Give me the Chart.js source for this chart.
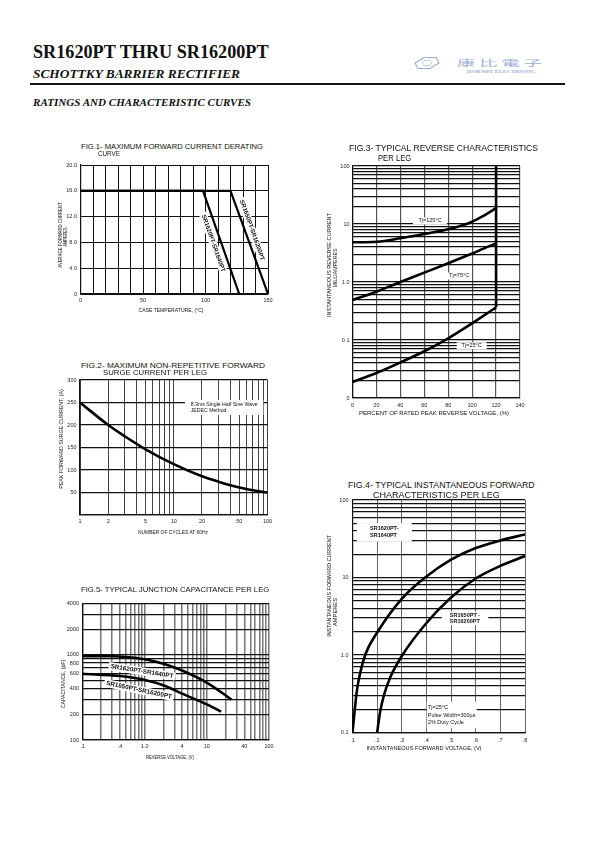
<!DOCTYPE html>
<html>
<head>
<meta charset="utf-8">
<script src="https://cdn.jsdelivr.net/npm/chart.js@4.4.1/dist/chart.umd.min.js"></script>
<style>
  html, body { margin: 0; padding: 0; background: #fff; }
  body { width: 595px; height: 842px; position: relative; overflow: hidden; font-family: 'Liberation Sans', Arial, sans-serif; color: #111; }
  canvas { position: absolute; }
  .t { position: absolute; white-space: nowrap; line-height: 1; transform-origin: 0 0; }
  #rule { position: absolute; left: 30px; top: 82.5px; width: 535px; height: 2px; background: #111; }
  #logo { position: absolute; left: 414px; top: 56px; }
</style>
</head>
<body>
<div id="rule"></div>
<svg id="logo" width="26" height="14" viewBox="0 0 26 14">
  <polygon points="1,7 10,1.5 22,1.5 25,7 16,12.5 4,12.5" fill="none" stroke="#9bb0d6" stroke-width="1.2"/>
  <ellipse cx="13" cy="7" rx="4.5" ry="2.6" fill="none" stroke="#9bb0d6" stroke-width="0.7"/>
</svg>
<canvas id="fig1"></canvas>
<canvas id="fig2"></canvas>
<canvas id="fig3"></canvas>
<canvas id="fig4"></canvas>
<canvas id="fig5"></canvas>
<script>
// ---- FIG.1 forward current derating ----
const caseTempA = [0, 98, 127];           // SR1620PT-SR1640PT
const avgCurrentA = [16, 16, 0];
const caseTempB = [0, 120, 150];          // SR1650PT-SR16200PT
const avgCurrentB = [16, 16, 0];
const fig1XGrid = [0, 10, 20, 30, 40, 50, 60, 70, 80, 90, 100, 110, 120, 130, 140, 150];
const fig1XLabelAt = [0, 50, 100, 150];
const fig1XText = ['0', '50', '100', '150'];
const fig1YGrid = [0, 4, 8, 12, 16, 20];
const fig1YText = ['0', '4.0', '8.0', '12.0', '16.0', '20.0'];

// ---- FIG.2 surge current ----
const surgeCycles = [1, 2, 3, 5, 10, 20, 30, 50, 70, 100];
const surgeAmps = [250, 200, 175, 146, 113, 86, 74, 61, 55, 50];
const fig2XGrid = [1, 2, 3, 4, 5, 6, 7, 8, 9, 10, 20, 30, 40, 50, 60, 70, 80, 90, 100];
const fig2XLabelAt = [1, 2, 5, 10, 20, 50, 100];
const fig2XText = ['1', '2', '5', '10', '20', '50', '100'];
const fig2YGrid = [0, 50, 100, 150, 200, 250, 300];
const fig2YLabelAt = [50, 100, 150, 200, 250, 300];
const fig2YText = ['50', '100', '150', '200', '250', '300'];

// ---- FIG.3 reverse characteristics ----
const revPercent = [0, 20, 40, 60, 80, 100, 110, 120];
const revTj125 = [4.84, 4.95, 5.67, 6.72, 8.1, 10.96, 14, 18.7];
const revTj75 = [0.49, 0.68, 1.0, 1.45, 2.1, 3.1, 3.8, 4.6];
const revTj25 = [0.0189, 0.027, 0.041, 0.064, 0.107, 0.194, 0.265, 0.366];
const revLimitPercent = [120, 120];
const revLimitCurrent = [100, 0.366];
const fig3XGrid = [0, 20, 40, 60, 80, 100, 120, 140];
const fig3XText = ['0', '20', '40', '60', '80', '100', '120', '140'];
const fig3YGrid = [0.01, 0.02, 0.03, 0.04, 0.05, 0.06, 0.07, 0.08, 0.09,
  0.1, 0.2, 0.3, 0.4, 0.5, 0.6, 0.7, 0.8, 0.9,
  1, 2, 3, 4, 5, 6, 7, 8, 9,
  10, 20, 30, 40, 50, 60, 70, 80, 90, 100];
const fig3YLabelAt = [0.01, 0.1, 1, 10, 100];
const fig3YText = ['0', '0.1', '1.0', '10', '100'];

// ---- FIG.4 forward characteristics ----
const fwdVoltA = [0.1, 0.118, 0.132, 0.153, 0.2, 0.3, 0.4, 0.5, 0.6, 0.7, 0.8];   // SR1620PT-SR1640PT
const fwdAmpsA = [0.1, 0.35, 0.6, 1.03, 1.95, 5.3, 10.3, 17, 24, 30, 36];
const fwdVoltB = [0.2, 0.212, 0.228, 0.252, 0.3, 0.4, 0.5, 0.6, 0.7, 0.8];      // SR1650PT-SR16200PT
const fwdAmpsB = [0.1, 0.184, 0.305, 0.505, 0.97, 2.59, 5.52, 9.7, 14.1, 18.9];
const fig4XGrid = [0.1, 0.2, 0.3, 0.4, 0.5, 0.6, 0.7, 0.8];
const fig4XText = ['.1', '.2', '.3', '.4', '.5', '.6', '.7', '.8'];
const fig4YGrid = [0.1, 0.2, 0.3, 0.4, 0.5, 0.6, 0.7, 0.8, 0.9,
  1, 2, 3, 4, 5, 6, 7, 8, 9,
  10, 20, 30, 40, 50, 60, 70, 80, 90, 100];
const fig4YLabelAt = [0.1, 1, 10, 100];
const fig4YText = ['0.1', '1.0', '10', '100'];

// ---- FIG.5 junction capacitance ----
const capVoltA = [0.1, 0.3, 0.5, 1, 2, 4, 10, 25];        // SR1620PT-SR1640PT
const capPfA = [965, 960, 940, 886, 787, 655, 472, 298];
const capVoltB = [0.1, 0.4, 1, 2, 4, 10, 17];             // SR1650PT-SR16200PT
const capPfB = [600, 563, 507, 440, 350, 262, 215];
const fig5XGrid = [0.1, 0.2, 0.3, 0.4, 0.5, 0.6, 0.7, 0.8, 0.9,
  1, 2, 3, 4, 5, 6, 7, 8, 9,
  10, 20, 30, 40, 50, 60, 70, 80, 90, 100];
const fig5XLabelAt = [0.1, 0.4, 1, 4, 10, 40, 100];
const fig5XText = ['.1', '.4', '1.0', '4', '10', '40', '100'];
const fig5YGrid = [100, 200, 300, 400, 500, 600, 700, 800, 900, 1000, 2000, 3000, 4000];
const fig5YLabelAt = [100, 200, 400, 600, 800, 1000, 2000, 4000];
const fig5YText = ['100', '200', '400', '600', '800', '1000', '2000', '4000'];

const FONT = "'Liberation Sans', Arial, sans-serif";
const SERIF = "'Liberation Serif', 'Times New Roman', serif";

// ---------- page text ----------
function putText(str, o) {
  const el = document.createElement('div');
  el.className = 't';
  el.textContent = str;
  el.style.left = o.x + 'px';
  el.style.top = o.y + 'px';
  el.style.font = o.font;
  if (o.color) el.style.color = o.color;
  document.body.appendChild(el);
  const sx = o.w ? o.w / el.getBoundingClientRect().width : 1;
  if (o.rot) el.style.transform = `rotate(${o.rot}deg) scaleX(${sx}) translate(-50%,-50%)`;
  else if (o.center) el.style.transform = `scaleX(${sx}) translate(-50%,-50%)`;
  else el.style.transform = `scaleX(${sx}) translate(0,-50%)`;
}

putText('SR1620PT THRU SR16200PT', { x: 32.7, y: 52.3, w: 235.6, font: `bold 18px ${SERIF}` });
putText('SCHOTTKY BARRIER RECTIFIER', { x: 32.7, y: 74.3, w: 207, font: `italic bold 13px ${SERIF}` });
putText('RATINGS AND CHARACTERISTIC CURVES', { x: 32.7, y: 101.5, w: 218, font: `italic bold 11px ${SERIF}` });
putText('康 比 電 子', { x: 457, y: 61.7, w: 85, font: `8.5px 'Noto Sans CJK TC', serif`, color: '#9bb0d6' });
putText('HORNBY ELECTRONIC', { x: 466.7, y: 71, w: 68, font: `bold 4.5px ${SERIF}`, color: '#9bb0d6' });

// figure titles
putText('FIG.1- MAXIMUM FORWARD CURRENT DERATING', { x: 81, y: 145.8, w: 182, font: `7.3px ${FONT}` });
putText('CURVE', { x: 98, y: 153.2, w: 22, font: `7.3px ${FONT}` });
putText('FIG.2- MAXIMUM NON-REPETITIVE FORWARD', { x: 81, y: 364.8, w: 184, font: `7.5px ${FONT}` });
putText('SURGE CURRENT PER LEG', { x: 102.7, y: 372.3, w: 104, font: `7.5px ${FONT}` });
putText('FIG.3- TYPICAL REVERSE CHARACTERISTICS', { x: 349.3, y: 147.7, w: 189, font: `9px ${FONT}` });
putText('PER LEG', { x: 378.3, y: 157.7, w: 33.3, font: `9px ${FONT}` });
putText('FIG.4- TYPICAL INSTANTANEOUS FORWARD', { x: 348.3, y: 483.7, w: 186.7, font: `9.5px ${FONT}` });
putText('CHARACTERISTICS PER LEG', { x: 373.3, y: 493.7, w: 126.7, font: `9.5px ${FONT}` });
putText('FIG.5- TYPICAL JUNCTION CAPACITANCE PER LEG', { x: 80.7, y: 588.7, w: 188.3, font: `8px ${FONT}` });

// axis titles
const AX = `5.3px ${FONT}`;
putText('CASE TEMPERATURE, (°C)', { x: 170.8, y: 310.3, w: 65, center: true, font: AX });
putText('AVERAGE FORWARD CURRENT', { x: 60, y: 235, w: 65.3, rot: -90, font: AX });
putText('AMPERES', { x: 65, y: 237.2, w: 19, rot: -90, font: AX });
putText('NUMBER OF CYCLES AT 60Hz', { x: 173.3, y: 532, w: 70, center: true, font: AX });
putText('PEAK FORWARD SURGE CURRENT, (A)', { x: 60.7, y: 439.2, w: 99.7, rot: -90, font: AX });
putText('PERCENT OF RATED PEAK REVERSE VOLTAGE, (%)', { x: 434.3, y: 413.3, w: 150, center: true, font: `6px ${FONT}` });
putText('INSTANTANEOUS REVERSE CURRENT', { x: 329.3, y: 265, w: 104, rot: -90, font: `6px ${FONT}` });
putText('MILLIAMPERES', { x: 334.7, y: 267.5, w: 39, rot: -90, font: `6px ${FONT}` });
putText('INSTANTANEOUS FORWARD VOLTAGE, (V)', { x: 424.2, y: 748.3, w: 115, center: true, font: `6px ${FONT}` });
putText('INSTANTANEOUS FORWARD CURRENT', { x: 329.3, y: 586, w: 101.7, rot: -90, font: `6px ${FONT}` });
putText('AMPERES', { x: 335, y: 612, w: 28, rot: -90, font: `6px ${FONT}` });
putText('REVERSE VOLTAGE, (V)', { x: 170, y: 756.7, w: 48, center: true, font: AX });
putText('CAPACITANCE, (pF)', { x: 63.3, y: 684, w: 48.3, rot: -90, font: AX });

// ---------- chart helpers ----------
function labelFn(at, text) {
  return v => {
    const i = at.findIndex(a => Math.abs(a - v) <= Math.abs(a) * 1e-6 + 1e-12);
    return i >= 0 ? text[i] : '';
  };
}

function axis(o) {
  return {
    type: o.type || 'linear',
    min: o.min, max: o.max,
    position: o.pos,
    afterBuildTicks: s => { s.ticks = o.grid.map(v => ({ value: v })); },
    grid: { color: o.gridColor || '#111', lineWidth: o.gridWidth || 1, drawTicks: false },
    border: { color: '#111', width: 1.2 },
    ticks: {
      autoSkip: false, maxRotation: 0, minRotation: 0, padding: o.pad,
      color: '#222', font: { family: FONT, size: 5.5 },
      callback: labelFn(o.labelAt, o.text)
    }
  };
}

function curve(xs, ys, width, smooth) {
  return {
    data: xs.map((x, i) => ({ x, y: ys[i] })),
    showLine: true, borderColor: '#000', borderWidth: width || 2.4,
    pointRadius: 0, fill: false, tension: 0,
    cubicInterpolationMode: smooth ? 'monotone' : 'default'
  };
}

// white-backed text boxes inside the plot, placed in data coordinates
function boxLabels(items) {
  return {
    id: 'boxLabels',
    beforeDatasetsDraw(chart) {
      // make sure the monotone curves get their bezier control points
      chart.getSortedVisibleDatasetMetas().forEach(m => {
        if (m.dataset && m.dataset.updateControlPoints) m.dataset.updateControlPoints(chart.chartArea, 'x');
      });
      const ctx = chart.ctx;
      items.forEach(it => {
        const px = chart.scales.x.getPixelForValue(it.x);
        const py = chart.scales.y.getPixelForValue(it.y);
        ctx.save();
        ctx.translate(px, py);
        ctx.rotate((it.rot || 0) * Math.PI / 180);
        ctx.font = it.font;
        const lh = it.lh || 7;
        const tw = Math.max(...it.lines.map(s => ctx.measureText(s).width));
        const bw = it.w || tw + 4, bh = it.h || lh * it.lines.length + 2;
        ctx.fillStyle = '#fff';
        ctx.fillRect(-bw / 2, -bh / 2, bw, bh);
        ctx.fillStyle = '#111';
        ctx.textBaseline = 'middle';
        ctx.textAlign = it.align === 'left' ? 'left' : 'center';
        const tx = it.align === 'left' ? -tw / 2 : 0;
        it.lines.forEach((s, i) => ctx.fillText(s, tx, (i - (it.lines.length - 1) / 2) * lh));
        ctx.restore();
      });
    }
  };
}

function makeChart(id, area, xAxis, yAxis, datasets, items) {
  const cv = document.getElementById(id);
  const left = Math.floor(area.l) - 45, top = Math.floor(area.t) - 10;
  const width = Math.ceil(area.r) + 14 - left, height = Math.ceil(area.b) + 20 - top;
  cv.width = width; cv.height = height;
  cv.style.left = left + 'px'; cv.style.top = top + 'px';
  cv.style.width = width + 'px'; cv.style.height = height + 'px';
  xAxis.afterFit = s => { s.height = top + height - area.b; };
  yAxis.afterFit = s => { s.width = area.l - left; };
  return new Chart(cv, {
    type: 'scatter',
    data: { datasets },
    options: {
      responsive: false, animation: false, events: [],
      layout: { padding: { left: 0, top: area.t - top, right: left + width - area.r, bottom: 0 } },
      plugins: { legend: { display: false }, tooltip: { enabled: false } },
      scales: { x: xAxis, y: yAxis }
    },
    plugins: [boxLabels(items || [])]
  });
}

// ---------- FIG.1 ----------
makeChart('fig1', { l: 80.5, r: 268, t: 165, b: 294 },
  axis({ pos: 'bottom', min: 0, max: 150, grid: fig1XGrid, labelAt: fig1XLabelAt, text: fig1XText, pad: 3.5 }),
  axis({ pos: 'left', min: 0, max: 20, grid: fig1YGrid, labelAt: fig1YGrid, text: fig1YText, pad: 3.5 }),
  [curve(caseTempA, avgCurrentA, 2.2), curve(caseTempB, avgCurrentB, 2.2)],
  [
    { x: 106.2, y: 7.86, rot: 70.6, lines: ['SR1620PT-SR1640PT'], font: `bold 6px ${FONT}`, h: 8 },
    { x: 137.2, y: 9.92, rot: 70.6, lines: ['SR1650PT-SR16200PT'], font: `bold 6px ${FONT}`, h: 8 }
  ]);

// ---------- FIG.2 ----------
makeChart('fig2', { l: 80, r: 267.5, t: 380, b: 515 },
  axis({ type: 'logarithmic', pos: 'bottom', min: 1, max: 100, grid: fig2XGrid, labelAt: fig2XLabelAt, text: fig2XText, pad: 3, gridColor: '#444' }),
  axis({ pos: 'left', min: 0, max: 300, grid: fig2YGrid, labelAt: fig2YLabelAt, text: fig2YText, pad: 3.5, gridWidth: 1.2 }),
  [curve(surgeCycles, surgeAmps, 2.6, true)],
  [
    { x: 34.5, y: 238.9, lines: ['8.3ms Single Half Sine Wave', 'JEDEC Method'], font: `5.2px ${FONT}`, w: 78.3, h: 15, lh: 6.7, align: 'left' }
  ]);

// ---------- FIG.3 ----------
makeChart('fig3', { l: 352.5, r: 520, t: 166, b: 398 },
  axis({ pos: 'bottom', min: 0, max: 140, grid: fig3XGrid, labelAt: fig3XGrid, text: fig3XText, pad: 4, gridColor: '#555', gridWidth: 1.2 }),
  axis({ type: 'logarithmic', pos: 'left', min: 0.01, max: 100, grid: fig3YGrid, labelAt: fig3YLabelAt, text: fig3YText, pad: 3, gridWidth: 1.2 }),
  [
    curve(revPercent, revTj125, 2.6, true),
    curve(revPercent, revTj75, 2.6, true),
    curve(revPercent, revTj25, 2.6, true),
    curve(revLimitPercent, revLimitCurrent, 2.6)
  ],
  [
    { x: 64.8, y: 11.3, lines: ['Tj=125°C'], font: `5.5px ${FONT}`, w: 34, h: 7 },
    { x: 89.1, y: 1.27, lines: ['Tj=75°C'], font: `5.5px ${FONT}`, w: 25, h: 7 },
    { x: 99.6, y: 0.0798, lines: ['Tj=25°C'], font: `5.5px ${FONT}`, w: 30, h: 7 }
  ]);

// ---------- FIG.4 ----------
makeChart('fig4', { l: 352.5, r: 525, t: 500, b: 732.5 },
  axis({ pos: 'bottom', min: 0.1, max: 0.8, grid: fig4XGrid, labelAt: fig4XGrid, text: fig4XText, pad: 5, gridColor: '#666' }),
  axis({ type: 'logarithmic', pos: 'left', min: 0.1, max: 100, grid: fig4YGrid, labelAt: fig4YLabelAt, text: fig4YText, pad: 4, gridWidth: 1.3 }),
  [curve(fwdVoltA, fwdAmpsA, 2.6, true), curve(fwdVoltB, fwdAmpsB, 2.6, true)],
  [
    { x: 0.229, y: 38.3, lines: ['SR1620PT-', 'SR1640PT'], font: `bold 5.5px ${FONT}`, w: 55, h: 18.5, lh: 7, align: 'left' },
    { x: 0.5565, y: 2.97, lines: ['SR1650PT -', 'SR16200PT'], font: `bold 5.5px ${FONT}`, w: 46.6, h: 13.3, lh: 6.5, align: 'left' },
    { x: 0.5025, y: 0.168, lines: ['Tj=25°C', 'Pulse Width=300µs', '2% Duty Cycle'], font: `5.5px ${FONT}`, w: 50, h: 26.6, lh: 7.8, align: 'left' }
  ]);

// ---------- FIG.5 ----------
makeChart('fig5', { l: 82.5, r: 269, t: 603.5, b: 740 },
  axis({ type: 'logarithmic', pos: 'bottom', min: 0.1, max: 100, grid: fig5XGrid, labelAt: fig5XLabelAt, text: fig5XText, pad: 3, gridColor: '#777', gridWidth: 1.5 }),
  axis({ type: 'logarithmic', pos: 'left', min: 100, max: 4000, grid: fig5YGrid, labelAt: fig5YLabelAt, text: fig5YText, pad: 3.5, gridWidth: 1.2 }),
  [curve(capVoltA, capPfA, 2.6, true), curve(capVoltB, capPfB, 2.6, true)],
  [
    { x: 0.905, y: 640, rot: 9, lines: ['SR1620PT-SR1640PT'], font: `bold 6.3px ${FONT}`, h: 8 },
    { x: 0.81, y: 386, rot: 12, lines: ['SR1650PT-SR16200PT'], font: `bold 6.3px ${FONT}`, h: 8 }
  ]);
</script>
</body>
</html>
